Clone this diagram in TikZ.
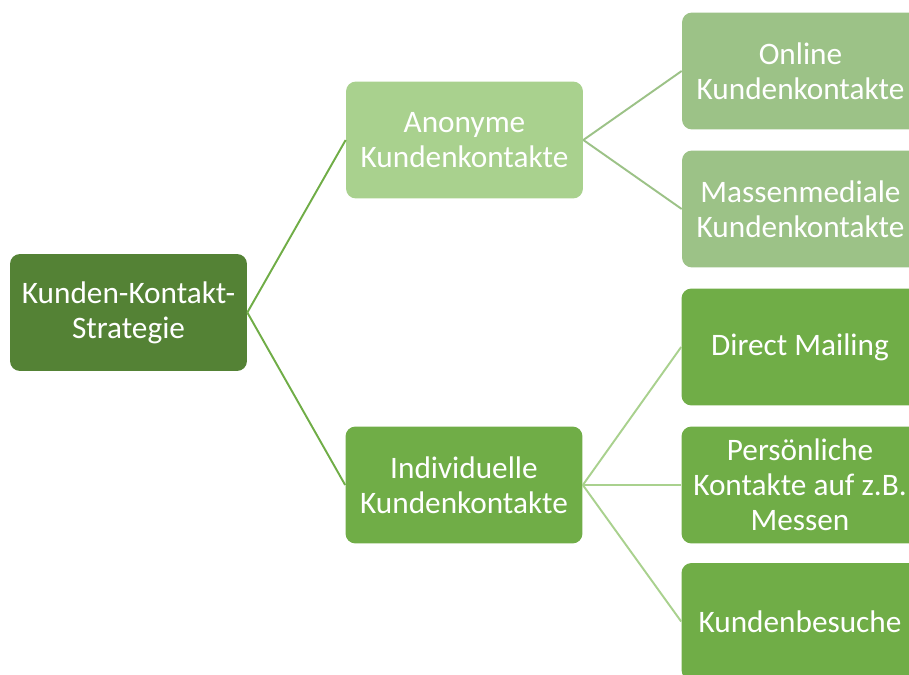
\documentclass[tikz,border=0pt]{standalone}
\usepackage{fontspec}
\setmainfont{Carlito}
\definecolor{dunkelgruen}{HTML}{548235}
\definecolor{mittelgruen}{HTML}{70AD47}
\definecolor{hellgruen}{HTML}{A9D18E}
\definecolor{graugruen}{HTML}{9CC287}

\tikzset{
  kasten/.style={rounded corners=0.2cm, text=white, align=center,
    minimum width=4.74cm, minimum height=2.34cm, inner sep=0pt,
    font=\fontsize{17.8}{20}\selectfont},
  ast/.style={line width=1.1pt}
}

\begin{document}
\begin{tikzpicture}[x=0.02cm, y=-0.02cm]
			\useasboundingbox (0,0) rectangle (909,675);
			\clip (0,0) rectangle (909,675);
			% Define nodes
			\node (kks) at (128.5,312.5) [kasten, fill=dunkelgruen] {Kunden-Kontakt-\\Strategie};
			\node (anon) at (464.5,140) [kasten, fill=hellgruen] {Anonyme\\Kundenkontakte};
			\node (indiv) at (464,485) [kasten, fill=mittelgruen] {Individuelle\\Kundenkontakte};
			
			\node (online) at (800.5,71) [kasten, fill=graugruen] {Online\\Kundenkontakte};
			\node (massen) at (800.5,209) [kasten, fill=graugruen] {Massenmediale\\Kundenkontakte};
			\node (mailing) at (800,347) [kasten, fill=mittelgruen] {Direct Mailing};
			\node (messen) at (800,485) [kasten, fill=mittelgruen] {Persönliche\\Kontakte auf z.B.\\Messen};
			\node (besuche) at (800,621.5) [kasten, fill=mittelgruen] {Kundenbesuche};
			
			% Draw edges
			\draw [ast, mittelgruen] (kks.east) -- (anon.west);
			\draw [ast, mittelgruen] (kks.east) -- (indiv.west);
			\draw [ast, graugruen] (anon.east) -- (online.west);
			\draw [ast, graugruen] (anon.east) -- (massen.west);
			\draw [ast, hellgruen] (indiv.east) -- (mailing.west);
			\draw [ast, hellgruen] (indiv.east) -- (messen.west);
			\draw [ast, hellgruen] (indiv.east) -- (besuche.west);
		\end{tikzpicture}
\end{document}
